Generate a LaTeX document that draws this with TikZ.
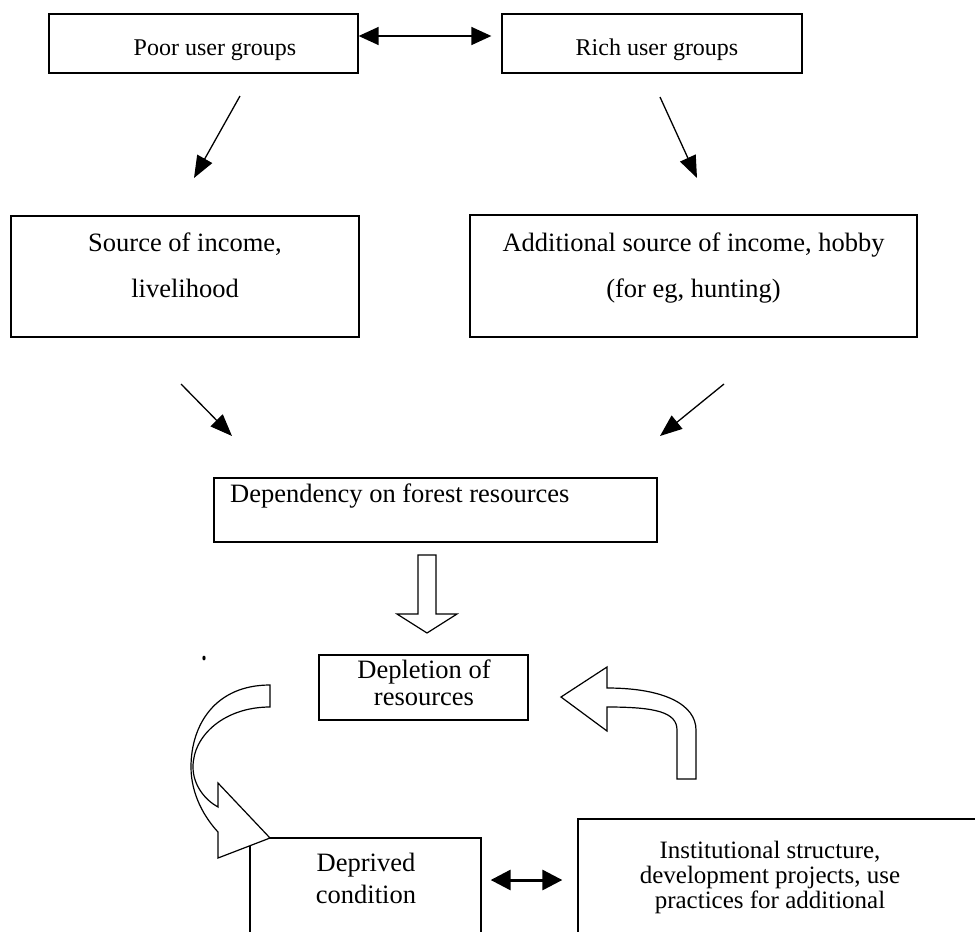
\documentclass[tikz,border=0pt]{standalone}
\usepackage{fontspec}
\setmainfont{Liberation Serif}
\usetikzlibrary{arrows.meta}
\begin{document}
\begin{tikzpicture}[x=1pt,y=-1pt,
  box/.style={draw, line width=1.3pt, rectangle, inner sep=0pt},
  lbl/.style={inner sep=0pt, anchor=base},
  topfont/.style={font=\fontsize{24}{28}\selectfont},
  midfont/.style={font=\fontsize{26.5}{30}\selectfont},
  lowfont/.style={font=\fontsize{25}{28}\selectfont},
  slant arrow/.style={line width=1.3pt, -{Triangle[length=22pt,width=17pt]}},
  top link/.style={line width=1.5pt, {Triangle[length=20pt,width=18pt]}-{Triangle[length=20pt,width=18pt]}},
  bottom link/.style={line width=3pt, {Triangle[length=20pt,width=20pt]}-{Triangle[length=20pt,width=20pt]}},
  hollow/.style={draw, line width=1.2pt, fill=white, line join=miter}]
\useasboundingbox (0,0) rectangle (975,932);

% ---- boxes ----
\node[box, minimum width=309pt, minimum height=59pt] (poor) at (203.5,43.5) {};
\node[box, minimum width=300pt, minimum height=59pt] (rich) at (652,43.5) {};
\node[box, minimum width=348pt, minimum height=121pt] (source) at (185,276.5) {};
\node[box, minimum width=447pt, minimum height=122pt] (addl) at (693.5,276) {};
\node[box, minimum width=443pt, minimum height=64pt] (dep) at (435.5,510) {};
\node[box, minimum width=209pt, minimum height=65pt] (depl) at (423.5,687.5) {};
\node[box, minimum width=231pt, minimum height=122pt] (depr) at (365.5,899) {};
\node[box, minimum width=412pt, minimum height=141pt] (inst) at (784,889.5) {};

% ---- labels ----
\node[lbl, topfont] (poor-t) at (215,55) {Poor user groups};
\node[lbl, topfont] (rich-t) at (657,55) {Rich user groups};
\node[lbl, midfont] (source-t1) at (185,251) {Source of income,};
\node[lbl, midfont] (source-t2) at (185,297) {livelihood};
\node[lbl, midfont] (addl-t1) at (693.5,251) {Additional source of income, hobby};
\node[lbl, midfont] (addl-t2) at (693.5,297) {(for eg, hunting)};
\node[lbl, midfont, anchor=base west] (dep-t) at (230,502) {Dependency on forest resources};
\node[lbl, midfont] (depl-t1) at (424,678) {Depletion of};
\node[lbl, midfont] (depl-t2) at (424,705) {resources};
\node[lbl, midfont] (depr-t1) at (366,871) {Deprived};
\node[lbl, midfont] (depr-t2) at (366,903) {condition};
\node[lbl, lowfont] (inst-t1) at (770,858) {Institutional structure,};
\node[lbl, lowfont] (inst-t2) at (770,883) {development projects, use};
\node[lbl, lowfont] (inst-t3) at (770,908) {practices for additional};

% ---- connectors ----
\coordinate (pl) at ([yshift=7.5pt]poor.east);
\coordinate (rl) at ([xshift=-10pt,yshift=7.5pt]rich.west);
\draw[top link] (pl) -- (rl);

\coordinate (a1) at (240,96);  \coordinate (a2) at (194,178);
\coordinate (b1) at (660,97);  \coordinate (b2) at (697,178);
\coordinate (c1) at (181,384); \coordinate (c2) at (232,436);
\coordinate (d1) at (724,384); \coordinate (d2) at (660,436);
\draw[slant arrow] (a1) -- (a2);
\draw[slant arrow] (b1) -- (b2);
\draw[slant arrow] (c1) -- (c2);
\draw[slant arrow] (d1) -- (d2);

\coordinate (dl) at ([xshift=9pt,yshift=19pt]depr.east);
\coordinate (il) at ([xshift=-15pt,yshift=9.5pt]inst.west);
\draw[bottom link] (dl) -- (il);

% ---- block arrows ----
% straight block arrow from dependency to depletion
\path[hollow] (418,555) -- (436,555) -- (436,614) -- (457,614) -- (427,633)
  -- (397,614) -- (418,614) -- cycle;

% curved block arrow sweeping down to the deprived condition
\path[hollow] (270,685) .. controls (215,685) and (191,725) .. (191,767)
  .. controls (191,795) and (205,818) .. (218,832)
  -- (218,858) -- (270,838) -- (218,783) -- (218,807)
  .. controls (205,800) and (193,785) .. (193,767)
  .. controls (193,735) and (225,707) .. (270,707) -- cycle;

% curved block arrow rising back to the depletion box
\path[hollow] (677,779) -- (677,730)
  .. controls (677,712) and (655,707) .. (607,707)
  -- (607,731) -- (561,697) -- (607,667) -- (607,688)
  .. controls (665,688) and (696,705) .. (696,730)
  -- (696,779) -- cycle;

% stray ink mark
\fill (204,658) ellipse (1.6pt and 2.4pt);
\end{tikzpicture}
\end{document}
